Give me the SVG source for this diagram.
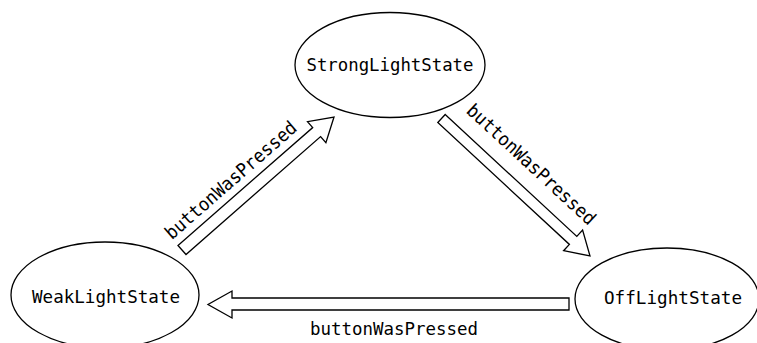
<svg xmlns="http://www.w3.org/2000/svg" width="757" height="343" viewBox="0 0 757 343">
<style>
.node ellipse{fill:#fff;stroke:#000;stroke-width:1.3}
.lbl{font-family:"DejaVu Sans Mono","Liberation Mono",monospace;font-size:18.5px;fill:#000;text-anchor:middle}
.arrow{fill:#fff;stroke:#000;stroke-width:1.3;stroke-linejoin:miter}
</style>
<rect width="757" height="343" fill="#fff"/>
<g id="connectors">
<polygon class="arrow" points="178,245.5 312.7,127.6 307.5,121.6 334,117 325.9,142.6 320.6,136.6 186,254.5"/>
<polygon class="arrow" points="445.2,114.5 576.8,236.4 582.6,230.1 590,256 563.6,250.7 569.4,244.4 437.8,122.5"/>
<polygon class="arrow" points="569,298 232,298 232,291 208,304.5 232,318 232,310 569,310"/>
<text class="lbl" transform="translate(235,185) rotate(-41.2)" textLength="168" lengthAdjust="spacingAndGlyphs">buttonWasPressed</text>
<text class="lbl" transform="translate(527,169) rotate(42.8)" textLength="168" lengthAdjust="spacingAndGlyphs">buttonWasPressed</text>
<text class="lbl" x="394" y="335" textLength="168" lengthAdjust="spacingAndGlyphs">buttonWasPressed</text>
</g>
<g id="StrongLightState" class="node">
<ellipse cx="390" cy="65" rx="95" ry="52.5"/>
<text class="lbl" x="390" y="71" textLength="167" lengthAdjust="spacingAndGlyphs">StrongLightState</text>
</g>
<g id="WeakLightState" class="node">
<ellipse cx="105" cy="295" rx="94" ry="53"/>
<text class="lbl" x="106" y="303" textLength="148" lengthAdjust="spacingAndGlyphs">WeakLightState</text>
</g>
<g id="OffLightState" class="node">
<ellipse cx="667" cy="299" rx="92" ry="51"/>
<text class="lbl" x="673" y="304" textLength="138" lengthAdjust="spacingAndGlyphs">OffLightState</text>
</g>
</svg>
